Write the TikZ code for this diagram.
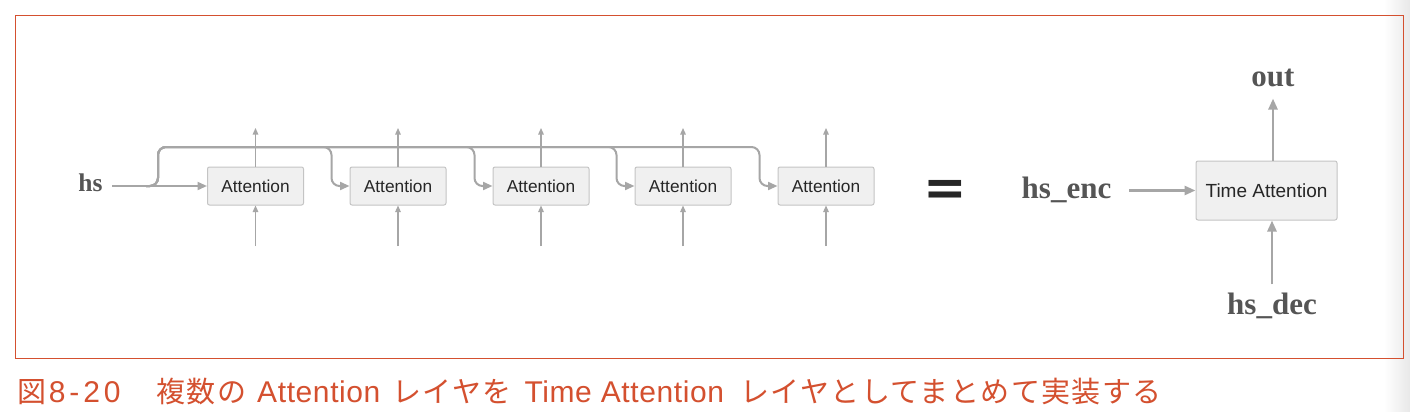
\documentclass[tikz,border=0pt]{standalone}
\usepackage{fontspec}
\setmainfont{Liberation Serif}
\setsansfont{Liberation Sans}
\newfontfamily\capjfont{Noto Sans CJK JP}[LetterSpace=5]
\newfontfamily\caplfont{Liberation Sans}[LetterSpace=2]
\newfontfamily\capdfont{Liberation Sans}[LetterSpace=13]
\newfontfamily\eqfont{DejaVu Sans}
\newcommand\capjp[1]{{\capjfont\fontsize{29}{30}\selectfont #1}}
\newcommand\caplat[1]{{\caplfont\fontsize{30}{30}\selectfont #1}}
\newcommand\capdig[1]{{\capdfont\fontsize{30}{30}\selectfont #1}}
\usetikzlibrary{arrows.meta}
\definecolor{frameRed}{HTML}{D4502F}
\definecolor{lineGray}{HTML}{A6A6A6}
\definecolor{boxFill}{HTML}{F0F0F0}
\definecolor{boxEdge}{HTML}{C4C4C4}
\definecolor{labelGray}{HTML}{555555}
\tikzset{
  attbox/.style={draw=boxEdge, fill=boxFill, line width=1pt, rounded corners=2pt,
    minimum width=96pt, minimum height=38pt, inner sep=0pt,
    font=\sffamily\fontsize{17.3}{19}\selectfont, text=black!85},
  tabox/.style={draw=boxEdge, fill=boxFill, line width=1pt, rounded corners=2pt,
    minimum width=141pt, minimum height=59pt, inner sep=0pt,
    font=\sffamily\fontsize{19}{21}\selectfont, text=black!85},
  lbl/.style={inner sep=0pt, text=labelGray, font=\bfseries\fontsize{31}{33}\selectfont},
  thinarrow/.style={draw=lineGray, line width=1.2pt, -{Triangle[length=6.5pt,width=5.5pt]}},
  flow/.style={draw=lineGray, line width=2pt, -{Triangle[length=9.5pt,width=8pt]}},
  bigflow/.style={draw=lineGray, line width=2.6pt, -{Triangle[length=11pt,width=9pt]}},
}
\begin{document}
\begin{tikzpicture}[x=1pt,y=-1pt]
\useasboundingbox (0,0) rectangle (1410,412);
\fill[white] (0,0) rectangle (1410,412);
\shade[left color=white, right color=black!9] (1384,0) rectangle (1410,412);
\draw[frameRed, line width=1.2pt] (15.5,15.5) rectangle (1403.5,358.5);

% left chain
\node[lbl, font=\bfseries\fontsize{25.5}{27}\selectfont, anchor=base] (hs) at (90.5,191) {hs};
\foreach \i/\x in {1/255.5,2/398,3/541,4/683,5/826} {
  \node[attbox] (a\i) at (\x,186) {Attention};
  \coordinate (u\i) at (\x,128);
  \coordinate (d\i) at (\x,246);
  \draw[thinarrow] (a\i.north) -- (u\i);
  \draw[thinarrow] (d\i) -- (a\i.south);
}
\coordinate (hsstart) at (112,186);
\coordinate (split) at (146,186);
\draw[flow] (hsstart) -- (a1.west);
\foreach \i in {2,3,4,5} {
  \draw[flow, rounded corners=8pt] (split) -- ++(12,0) |- ([xshift=-18pt,yshift=39pt]a\i.west)
     -- ([xshift=-18pt]a\i.west) -- (a\i.west);
}

% equals
\node[inner sep=0pt, text=black!85, font=\eqfont\bfseries\fontsize{52}{52}\selectfont] (eq) at (945,193) {=};

% right part
\node[tabox] (ta) at (1266.5,190.5) {Time Attention};
\node[lbl, anchor=base] (enc) at (1066.5,198) {hs\_enc};
\node[lbl, anchor=base] (out) at (1273,86) {out};
\node[lbl, anchor=base] (dec) at (1272,314) {hs\_dec};
\draw[bigflow, shorten <=18pt] (enc.east |- ta.west) -- (ta.west);
\draw[bigflow, shorten >=12pt] (ta.north -| out.south) -- (out.south);
\draw[bigflow, shorten <=8pt] (dec.north) -- (ta.south -| dec.north);

% caption
\node[anchor=base west, inner sep=0pt, text=frameRed] (cap) at (17,402)
  {\makebox[31.7pt][l]{\capjp{図}}%
   \makebox[107.3pt][l]{\capdig{8-20}\capjp{　}}%
   \makebox[101pt][l]{\capjp{複数の}}%
   \makebox[135pt][l]{\caplat{Attention}}%
   \makebox[132.3pt][l]{\capjp{レイヤを}}%
   \makebox[215.7pt][l]{\caplat{Time Attention}}%
   \capjp{レイヤとしてまとめて実装する}};
\end{tikzpicture}
\end{document}
